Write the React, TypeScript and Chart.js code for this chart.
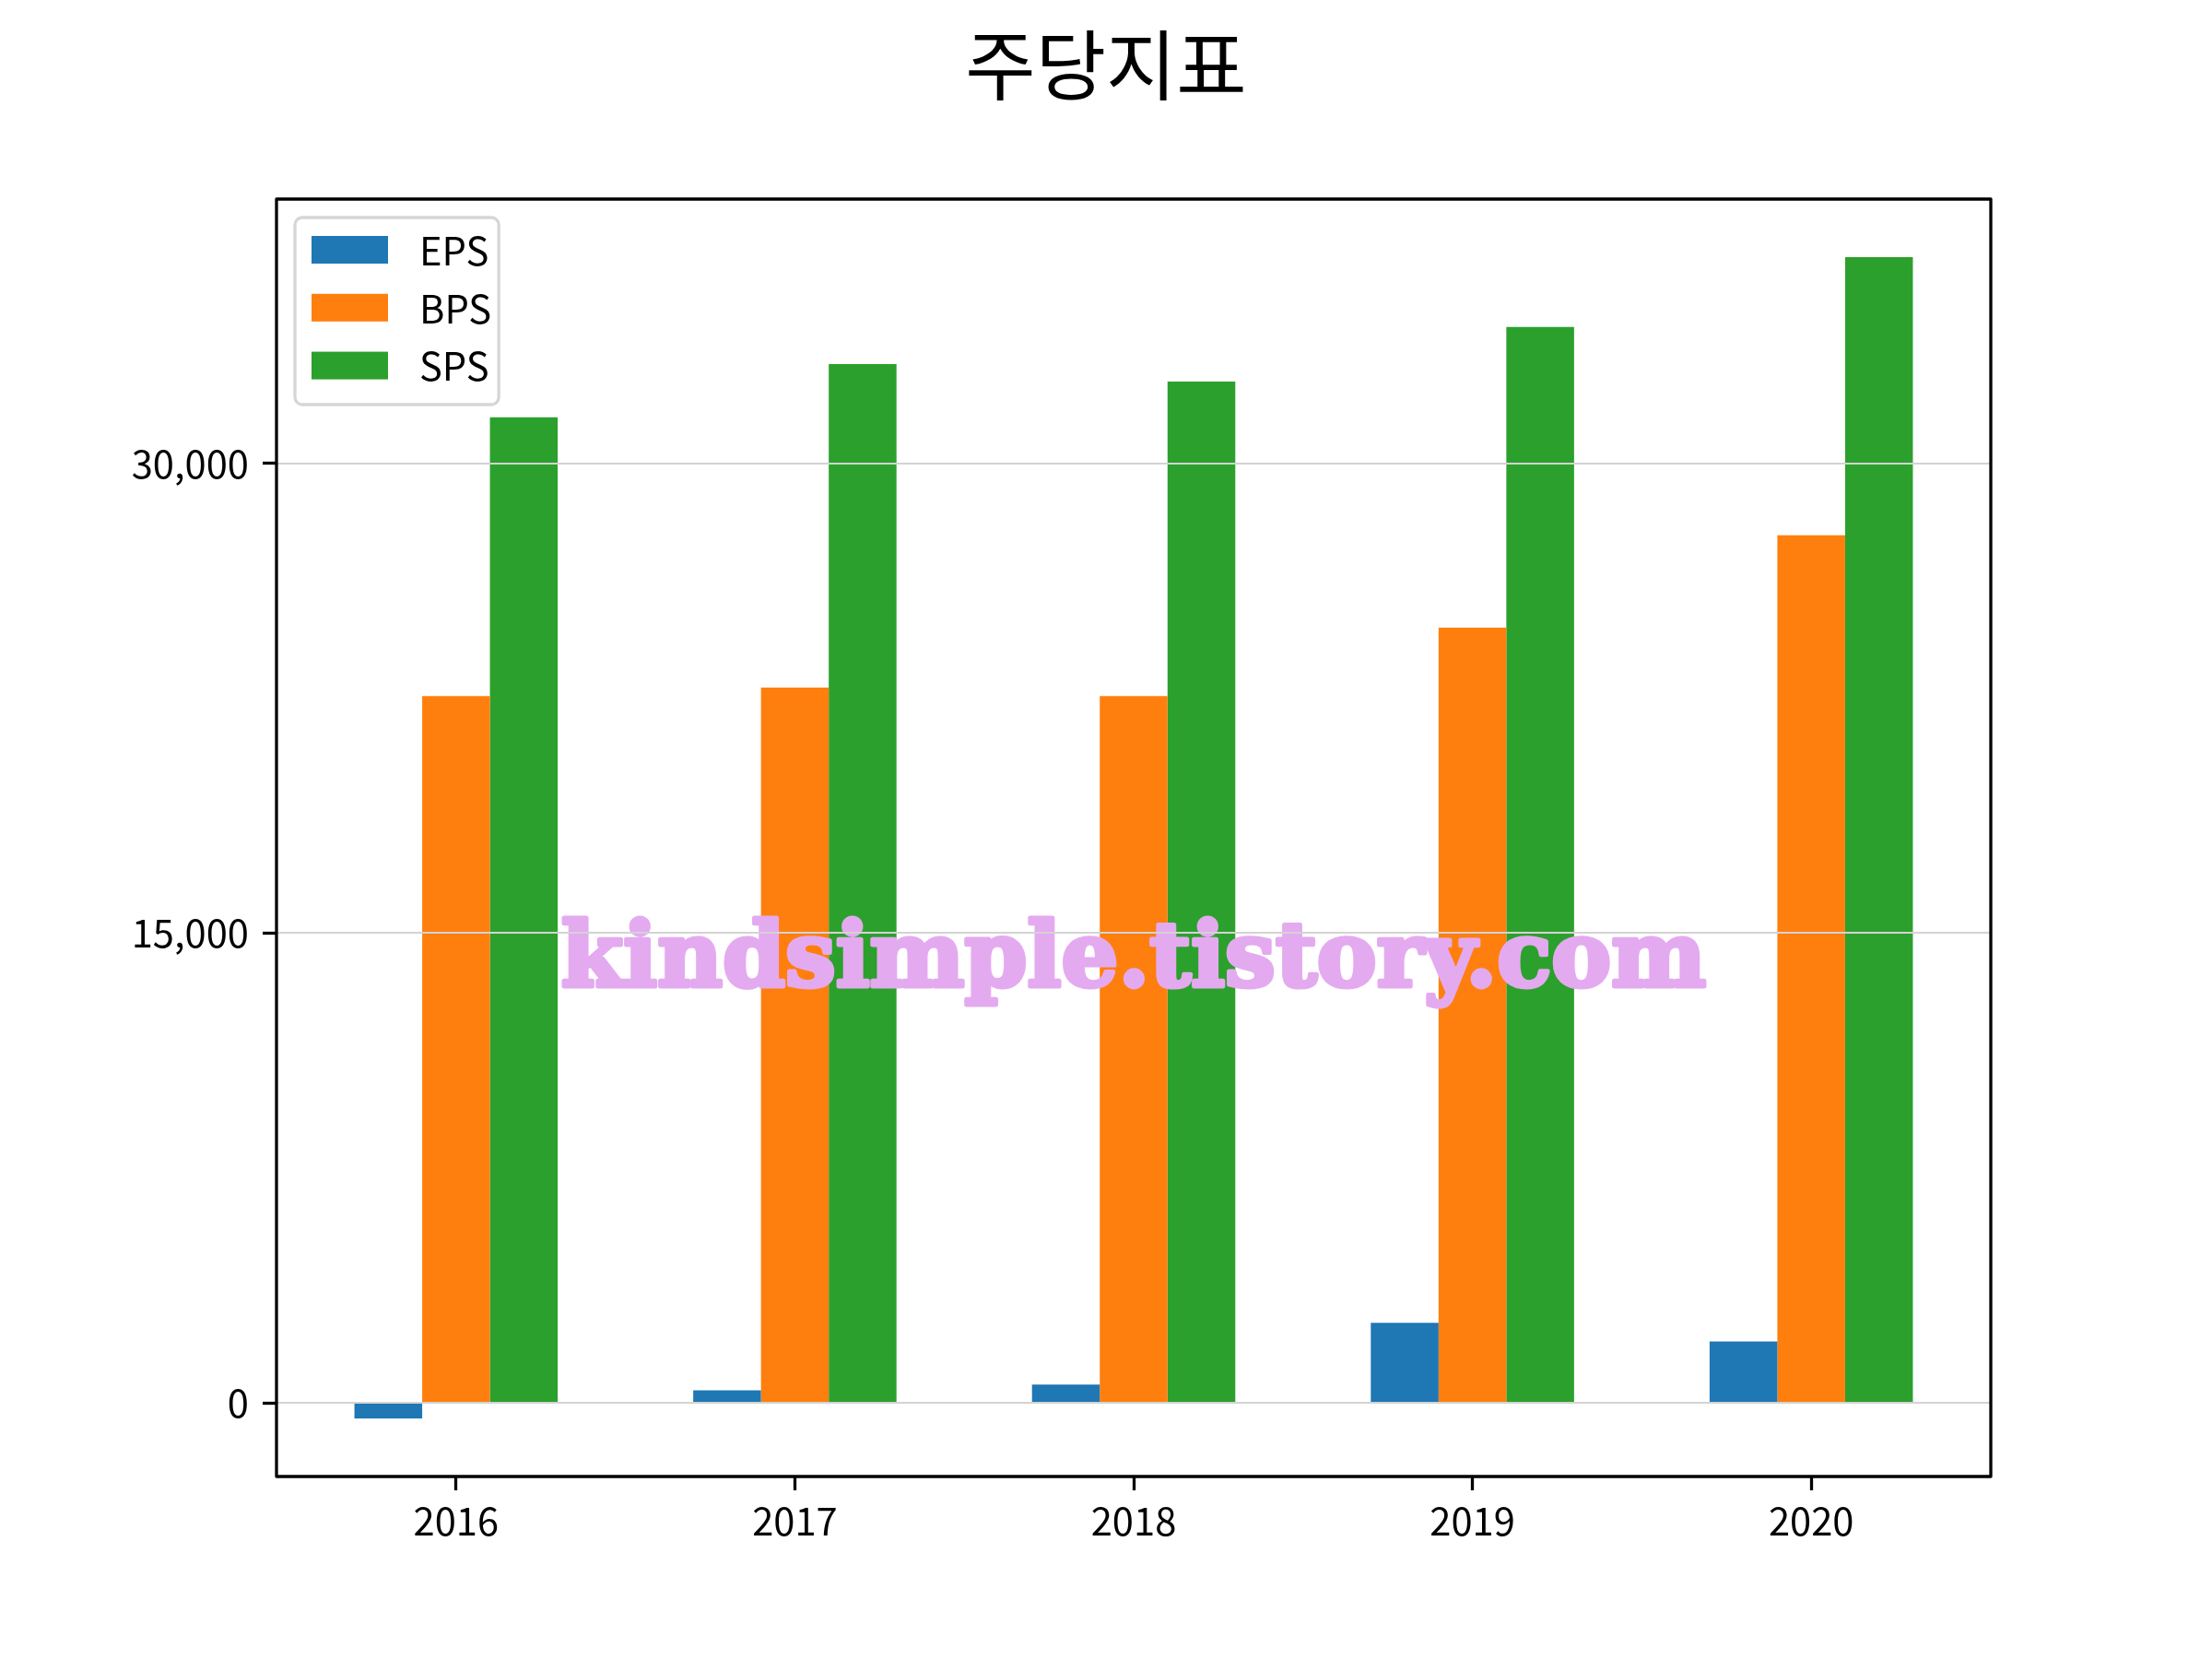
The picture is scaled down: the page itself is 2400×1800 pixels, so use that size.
import { useEffect, useRef } from 'react'
import { Chart, registerables } from 'chart.js'

Chart.register(...registerables)

const years = ['2016', '2017', '2018', '2019', '2020']
const eps = [-490, 410, 590, 2560, 1970]
const bps = [22570, 22840, 22570, 24750, 27700]
const sps = [31470, 33170, 32610, 34350, 36580]
const seriesNames = ['EPS', 'BPS', 'SPS']
const seriesColors = ['#1f77b4', '#ff7f0e', '#2ca02c']
const yTicks = [0, 15000, 30000]
const titleText = '주당지표'
const watermark = 'kindsimple.tistory.com'

const FONT = "'Noto Sans CJK KR', 'Noto Sans', sans-serif"

// matplotlib-style auto limits: 5% margin around the data (bars include 0)
const allValues = [...eps, ...bps, ...sps, 0]
const dataMin = Math.min(...allValues)
const dataMax = Math.max(...allValues)
const yMin = dataMin - (dataMax - dataMin) * 0.05
const yMax = dataMax + (dataMax - dataMin) * 0.05
const xLo = -0.3
const xHi = years.length - 1 + 0.3
const xMin = xLo - (xHi - xLo) * 0.05
const xMax = xHi + (xHi - xLo) * 0.05

const decorations = {
  id: 'decorations',
  afterDatasetsDraw(chart: any) {
    const { ctx, chartArea: a, scales } = chart
    const w = a.right - a.left
    const h = a.bottom - a.top
    ctx.save()

    // watermark (heavy rounded serif, thickened with a stroke)
    ctx.font = `bold 100px 'DejaVu Serif'`
    const size = (100 * w * 0.668) / ctx.measureText(watermark).width
    ctx.font = `bold ${size}px 'DejaVu Serif'`
    ctx.fillStyle = '#e4aaf0'
    ctx.strokeStyle = '#e4aaf0'
    ctx.lineWidth = 5
    ctx.lineJoin = 'round'
    ctx.textAlign = 'center'
    ctx.textBaseline = 'alphabetic'
    const wx = a.left + w / 2
    const wy = a.top + h * 0.616
    ctx.strokeText(watermark, wx, wy)
    ctx.fillText(watermark, wx, wy)

    // horizontal grid on top of the bars
    const y = scales.y
    ctx.strokeStyle = '#d3d3d3'
    ctx.lineWidth = 2
    for (const t of y.ticks) {
      const py = Math.round(y.getPixelForValue(t.value))
      ctx.beginPath()
      ctx.moveTo(a.left, py)
      ctx.lineTo(a.right, py)
      ctx.stroke()
    }

    // spines
    ctx.strokeStyle = '#000'
    ctx.lineWidth = 3.3
    ctx.strokeRect(a.left, a.top, w, h)

    // legend
    const fs = 41.7
    ctx.font = `${fs}px ${FONT}`
    const items = chart.data.datasets
    const maxW = Math.max(...items.map((d: any) => ctx.measureText(d.label).width))
    const bx = a.left + 20
    const by = a.top + 20
    const rowH = 62.8
    const bw = 135 + maxW + 8
    const bh = 203
    ctx.beginPath()
    ctx.roundRect(bx, by, bw, bh, 8)
    ctx.fillStyle = 'rgba(255,255,255,0.8)'
    ctx.fill()
    ctx.strokeStyle = '#d6d6d6'
    ctx.lineWidth = 3.3
    ctx.stroke()
    ctx.textAlign = 'left'
    ctx.textBaseline = 'middle'
    items.forEach((d: any, i: number) => {
      const cy = by + 35 + i * rowH
      ctx.fillStyle = d.backgroundColor
      ctx.fillRect(bx + 18, cy - 15, 83, 30)
      ctx.fillStyle = '#000'
      ctx.fillText(d.label, bx + 135, cy + 1)
    })

    // title
    ctx.font = `83px ${FONT}`
    ctx.textAlign = 'center'
    ctx.fillStyle = '#000'
    ctx.fillText(titleText, chart.width / 2, 70)

    ctx.restore()
  },
}

export default function App() {
  const chartRef = useRef<HTMLCanvasElement>(null)
  const chartInstance = useRef<Chart | null>(null)

  useEffect(() => {
    document.body.style.margin = '0'
    if (!chartRef.current) return
    if (chartInstance.current) chartInstance.current.destroy()

    const tickFont = { size: 41.7, family: FONT }
    const series = [eps, bps, sps]

    chartInstance.current = new Chart(chartRef.current, {
      type: 'bar',
      data: {
        datasets: series.map((vals, k) => ({
          label: seriesNames[k],
          data: vals.map((v, i) => ({ x: i, y: v })),
          backgroundColor: seriesColors[k],
          borderWidth: 0,
          categoryPercentage: 0.6,
          barPercentage: 1.0,
        })),
      },
      options: {
        responsive: false,
        animation: false,
        devicePixelRatio: 1,
        layout: { padding: { top: 216, right: 240, left: 0, bottom: 0 } },
        plugins: {
          legend: { display: false },
          title: { display: false },
          tooltip: { enabled: false },
        },
        scales: {
          x: {
            type: 'linear',
            offset: false,
            min: xMin,
            max: xMax,
            afterBuildTicks: (s: any) => {
              s.ticks = years.map((_, i) => ({ value: i }))
            },
            afterFit: (s: any) => {
              s.height = 198
            },
            grid: {
              offset: false,
              drawOnChartArea: false,
              tickLength: 15,
              tickWidth: 3.3,
              tickColor: '#000',
            },
            border: { display: false },
            ticks: {
              callback: (v: any) => years[v],
              font: tickFont,
              color: '#000',
              padding: 8,
              maxRotation: 0,
              autoSkip: false,
            },
          },
          y: {
            type: 'linear',
            min: yMin,
            max: yMax,
            afterBuildTicks: (s: any) => {
              s.ticks = yTicks.map((value) => ({ value }))
            },
            afterFit: (s: any) => {
              s.width = 300
            },
            grid: { drawOnChartArea: false, tickLength: 15, tickWidth: 3.3, tickColor: '#000' },
            border: { display: false },
            ticks: {
              callback: (v: any) => Number(v).toLocaleString('en-US'),
              font: tickFont,
              color: '#000',
              padding: 15,
            },
          },
        },
      },
      plugins: [decorations],
    })

    return () => {
      if (chartInstance.current) {
        chartInstance.current.destroy()
        chartInstance.current = null
      }
    }
  }, [])

  return (
    <div style={{ width: 2400, height: 1800, background: '#fff' }}>
      <canvas ref={chartRef} width={2400} height={1800} style={{ display: 'block' }} />
    </div>
  )
}
